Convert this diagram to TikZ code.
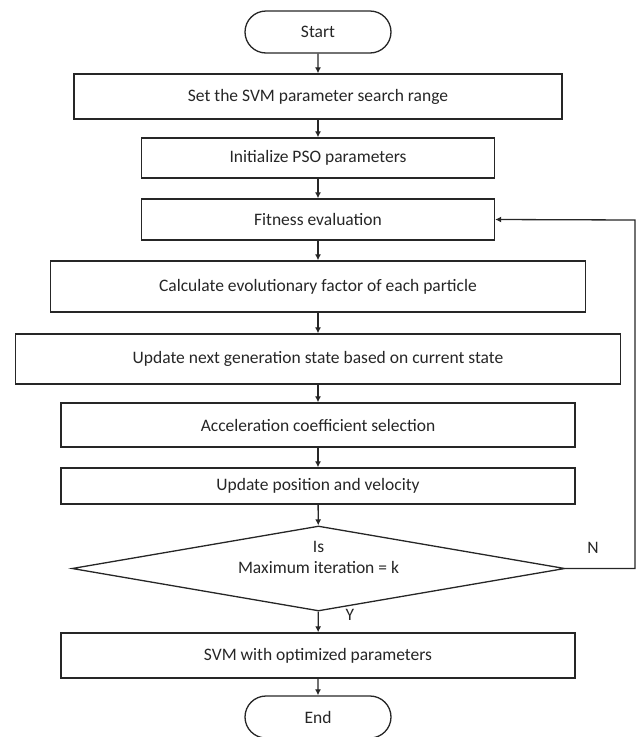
\documentclass[tikz,border=0pt]{standalone}
\usepackage{fontspec}
\setmainfont{Carlito}
\usetikzlibrary{shapes.misc,shapes.geometric,arrows.meta}
\begin{document}
\begin{tikzpicture}[x=1pt,y=-1pt,
  every node/.style={font=\fontsize{17.5}{21}\selectfont, text=black!85},
  procbox/.style={draw=black!85, line width=1.3pt, rectangle, inner sep=0pt},
  termbox/.style={draw=black!85, line width=1.3pt, rounded rectangle, inner sep=0pt, minimum width=146pt, minimum height=42pt},
  flow/.style={draw=black!85, line width=1.3pt, -{Latex[length=6pt,width=6pt]}},
  lbl/.style={inner sep=0pt}
]
\useasboundingbox (0,0) rectangle (637,737);
\node[termbox] (start) at (318,32) {Start};
\node[procbox, minimum width=488pt, minimum height=45pt] (b1) at (318,96.5) {Set the SVM parameter search range};
\node[procbox, minimum width=353pt, minimum height=40pt] (b2) at (318,158) {Initialize PSO parameters};
\node[procbox, minimum width=353pt, minimum height=41pt] (b3) at (318,219.5) {Fitness evaluation};
\node[procbox, minimum width=535pt, minimum height=51pt] (b4) at (318,286.5) {Calculate evolutionary factor of each particle};
\node[procbox, minimum width=605pt, minimum height=50pt] (b5) at (318,359) {Update next generation state based on current state};
\node[procbox, minimum width=514pt, minimum height=44pt] (b6) at (318,425) {Acceleration coefficient selection};
\node[procbox, minimum width=514pt, minimum height=36pt] (b7) at (318,486) {Update position and velocity};
\node[draw=black!85, line width=1.3pt, diamond, inner sep=0pt, minimum width=493pt, minimum height=85pt, aspect=5.8] (d) at (318.5,568.5) {};
\node[lbl, align=center] (dtext) at (318.5,557) {Is\\Maximum iteration = k};
\node[lbl] (nlab) at (593,548) {N};
\node[lbl] (ylab) at (350,615) {Y};
\node[procbox, minimum width=514pt, minimum height=45pt] (b8) at (318,655.5) {SVM with optimized parameters};
\node[termbox] (end) at (318,717) {End};
\coordinate (fbA) at (635,568.5);
\coordinate (fbB) at (635,220);
\draw[flow] (start) -- (b1);
\draw[flow] (b1) -- (b2);
\draw[flow] (b2) -- (b3);
\draw[flow] (b3) -- (b4);
\draw[flow] (b4) -- (b5);
\draw[flow] (b5) -- (b6);
\draw[flow] (b6) -- (b7);
\draw[flow] (b7) -- (d);
\draw[flow] (d) -- (b8);
\draw[flow] (b8) -- (end);
\draw[flow] (d.east) -- (fbA) -- (fbB) -- (b3.east);
\end{tikzpicture}
\end{document}
